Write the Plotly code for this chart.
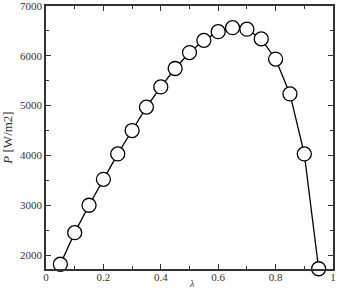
import plotly.graph_objects as go

lam = [0.05, 0.1, 0.15, 0.2, 0.25, 0.3, 0.35, 0.4, 0.45, 0.5, 0.55, 0.6, 0.65, 0.7, 0.75, 0.8, 0.85, 0.9, 0.95]
power = [1815, 2450, 3000, 3520, 4030, 4500, 4970, 5375, 5745, 6065, 6310, 6485, 6565, 6535, 6340, 5935, 5235, 4030, 1725]

fig = go.Figure()
fig.add_trace(go.Scatter(
    x=lam, y=power, mode="lines+markers",
    line=dict(color="black", width=1.3),
    marker=dict(symbol="circle", size=14, color="white", line=dict(color="black", width=1.3)),
    cliponaxis=False, showlegend=False,
))

font = dict(family="Liberation Serif, Times New Roman, serif", size=11, color="#333")
axis_common = dict(
    showgrid=False, zeroline=False, showline=True, linecolor="#333", linewidth=1.5,
    mirror="allticks", ticks="inside", ticklen=5, tickcolor="#333", tickwidth=1,
    tickfont=font, automargin=False, ticklabeloverflow="allow",
)
fig.update_xaxes(range=[0, 1], dtick=0.2, tick0=0, tickformat="~g", ticklabelstandoff=-3,
                 minor=dict(dtick=0.1, ticks="inside", ticklen=3, tickcolor="#333"),
                 **axis_common)
fig.update_yaxes(range=[1720, 7000], dtick=1000, tick0=0,
                 minor=dict(dtick=500, ticks="inside", ticklen=3, tickcolor="#333"),
                 title=dict(text="<i>P</i> [W/m2]", font=dict(family="Liberation Serif, serif", size=13, color="#333"), standoff=4),
                 **axis_common)
fig.add_annotation(text="<i>λ</i>", x=0.51, y=-0.057, xref="paper", yref="paper",
                   xanchor="center", yanchor="middle", showarrow=False,
                   font=dict(family="Liberation Serif, serif", size=10, color="#333"))
fig.update_layout(
    width=342, height=293, margin=dict(l=46, r=9, t=6, b=24),
    plot_bgcolor="white", paper_bgcolor="white",
)
fig.write_html("out.html")
